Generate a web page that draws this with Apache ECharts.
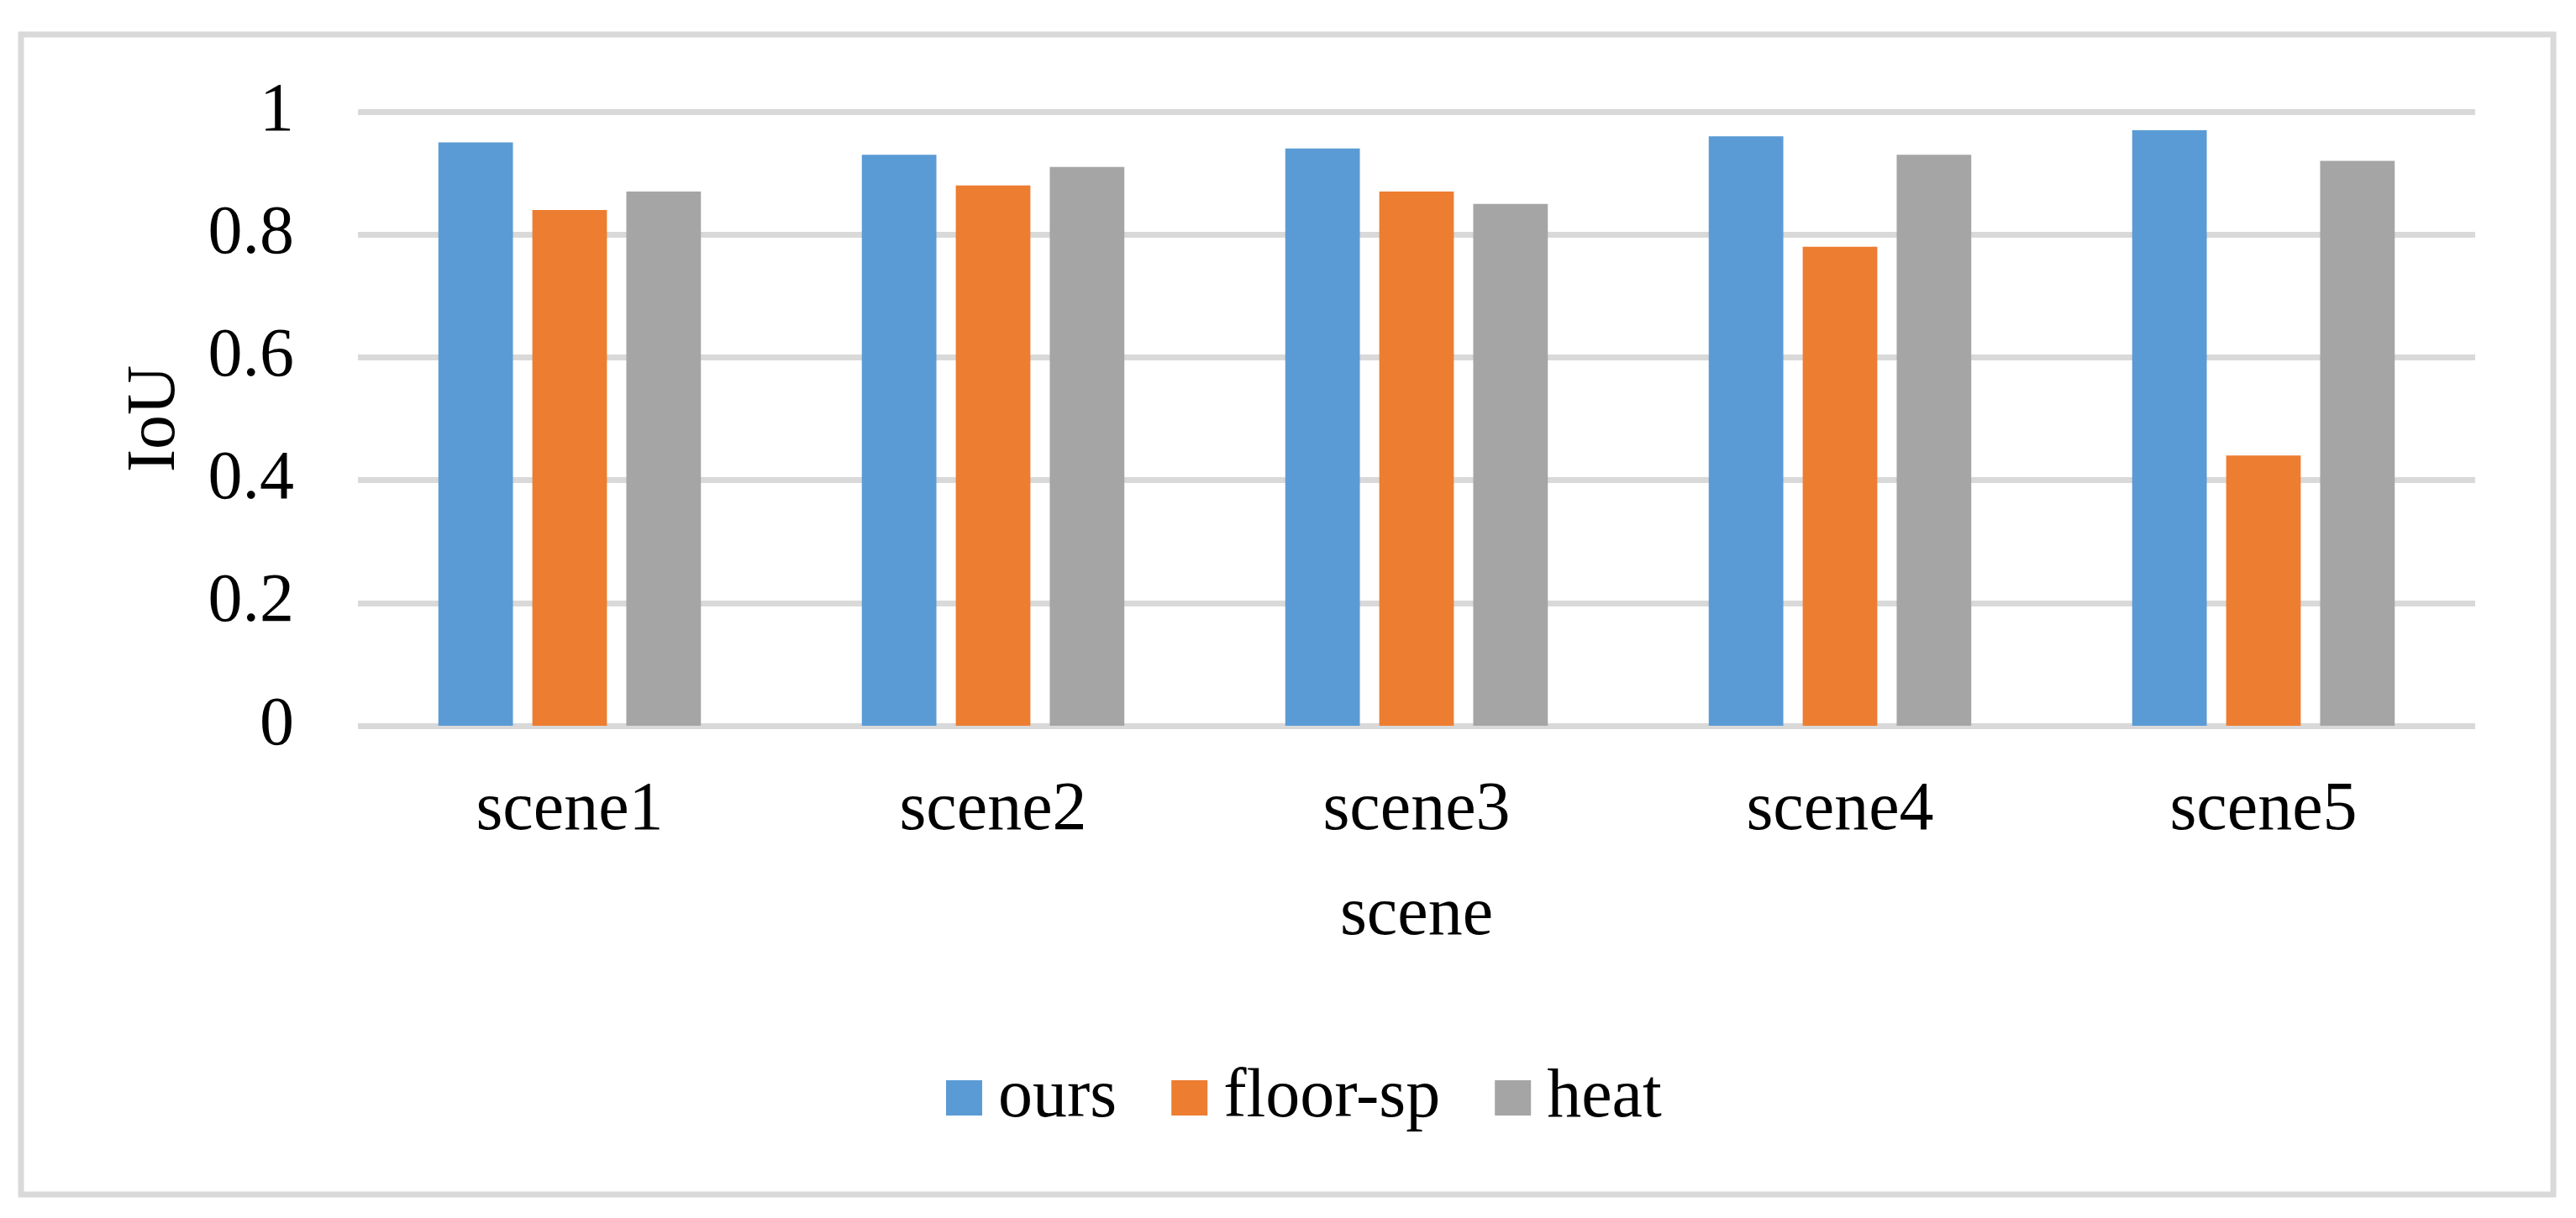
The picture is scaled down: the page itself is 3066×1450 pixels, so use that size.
<!DOCTYPE html>
<html>
<head>
<meta charset="utf-8">
<script src="https://cdn.jsdelivr.net/npm/echarts@6/dist/echarts.min.js"></script>
<style>
html,body{margin:0;padding:0;background:#fff;}
#chart{width:3066px;height:1450px;}
</style>
</head>
<body>
<div id="chart"></div>
<script>
const categories = ['scene1', 'scene2', 'scene3', 'scene4', 'scene5'];
const seriesNames = ['ours', 'floor-sp', 'heat'];
const ours = [0.95, 0.93, 0.94, 0.96, 0.97];
const floorSp = [0.84, 0.88, 0.87, 0.78, 0.44];
const heat = [0.87, 0.91, 0.85, 0.93, 0.92];
const colors = ['#5B9BD5', '#ED7D31', '#A5A5A5'];

const FONT = '"Liberation Serif", "Times New Roman", serif';
const chart = echarts.init(document.getElementById('chart'));

chart.setOption({
  animation: false,
  backgroundColor: '#ffffff',
  color: colors,
  textStyle: { fontFamily: FONT, color: '#000' },
  graphic: [{
    type: 'rect',
    shape: { x: 25, y: 41, width: 3014, height: 1381 },
    style: { fill: 'none', stroke: '#D9D9D9', lineWidth: 7 },
    silent: true,
    z: -1
  }],
  grid: { left: 426, right: 120, top: 133, bottom: 586, containLabel: false },
  legend: {
    data: seriesNames,
    left: 1121,
    top: 1261,
    itemWidth: 43,
    itemHeight: 42,
    itemGap: 65,
    icon: 'rect',
    textStyle: { fontFamily: FONT, fontSize: 82, color: '#000', padding: [0, 0, 0, 14] }
  },
  xAxis: {
    type: 'category',
    data: categories,
    name: 'scene',
    nameLocation: 'middle',
    nameGap: 185,
    nameTextStyle: { fontFamily: FONT, fontSize: 82, color: '#000' },
    axisLine: { show: false },
    axisTick: { show: false },
    axisLabel: { fontFamily: FONT, fontSize: 82, color: '#000', margin: 60 }
  },
  yAxis: {
    type: 'value',
    min: 0,
    max: 1,
    interval: 0.2,
    name: 'IoU',
    nameLocation: 'middle',
    nameGap: 200,
    nameRotate: 90,
    nameTextStyle: { fontFamily: FONT, fontSize: 82, color: '#000' },
    axisLine: { show: false },
    axisTick: { show: false },
    axisLabel: { fontFamily: FONT, fontSize: 82, color: '#000', margin: 76 },
    splitLine: { lineStyle: { color: '#D9D9D9', width: 7 } }
  },
  series: [
    { name: seriesNames[0], type: 'bar', data: ours, barGap: '26%', barCategoryGap: '38%' },
    { name: seriesNames[1], type: 'bar', data: floorSp, barGap: '26%', barCategoryGap: '38%' },
    { name: seriesNames[2], type: 'bar', data: heat, barGap: '26%', barCategoryGap: '38%' }
  ]
});
</script>
</body>
</html>
